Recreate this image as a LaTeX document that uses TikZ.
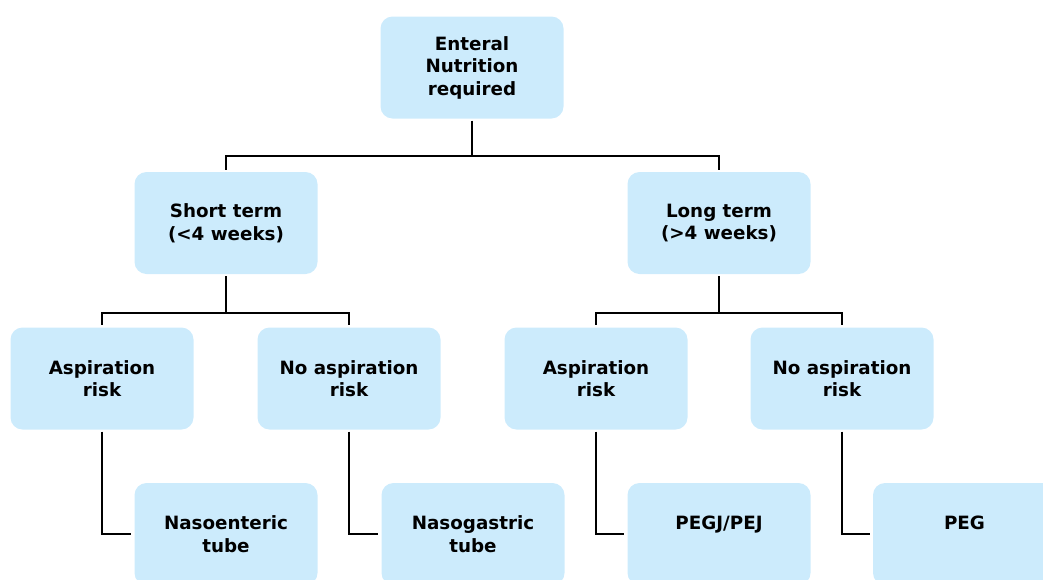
\documentclass[tikz,border=0pt]{standalone}
\usepackage{fontspec}
\setmainfont{DejaVu Sans}
\definecolor{boxblue}{RGB}{204,235,252}
\begin{document}
\begin{tikzpicture}[x=1pt,y=1pt,
  box/.style={fill=boxblue, draw=none, rounded corners=12pt, minimum width=183pt, minimum height=102pt,
    align=center, font=\fontsize{18.3}{22.5}\selectfont\bfseries, inner sep=0pt},
  link/.style={draw=black, line width=2pt, shorten <=2pt, shorten >=2pt}]
\useasboundingbox (0,0) rectangle (1043,-579);
\begin{scope}
\clip (0,0) rectangle (1043,-579);
\node[box] (top) at (472,-67.5) {Enteral\\Nutrition\\required};
\node[box] (st) at (226,-223) {Short term\\(<4 weeks)};
\node[box] (lt) at (719,-223) {Long term\\(>4 weeks)};
\node[box] (a1) at (102,-378.5) {Aspiration\\risk};
\node[box] (n1) at (349,-378.5) {No aspiration\\risk};
\node[box] (a2) at (596,-378.5) {Aspiration\\risk};
\node[box] (n2) at (842,-378.5) {No aspiration\\risk};
\node[box] (b1) at (226,-534) {Nasoenteric\\tube};
\node[box] (b2) at (473,-534) {Nasogastric\\tube};
\node[box] (b3) at (719,-534) {PEGJ/PEJ\\\mbox{}};
\node[box] (b4) at (964.5,-534) {PEG\\\mbox{}};
\end{scope}
\coordinate (h1) at (472,-156);
\coordinate (h2) at (226,-313);
\coordinate (h3) at (719,-313);
\draw[link, shorten >=0pt] (top.south) -- (h1);
\draw[link, shorten <=0pt] (h1) -| (st.north);
\draw[link, shorten <=0pt] (h1) -| (lt.north);
\draw[link, shorten >=0pt] (st.south) -- (h2);
\draw[link, shorten <=0pt] (h2) -| (a1.north);
\draw[link, shorten <=0pt] (h2) -| (n1.north);
\draw[link, shorten >=0pt] (lt.south) -- (h3);
\draw[link, shorten <=0pt] (h3) -| (a2.north);
\draw[link, shorten <=0pt] (h3) -| (n2.north);
\draw[link, shorten >=3pt] (a1.south) |- (b1.west);
\draw[link, shorten >=3pt] (n1.south) |- (b2.west);
\draw[link, shorten >=3pt] (a2.south) |- (b3.west);
\draw[link, shorten >=3pt] (n2.south) |- (b4.west);
\end{tikzpicture}
\end{document}
